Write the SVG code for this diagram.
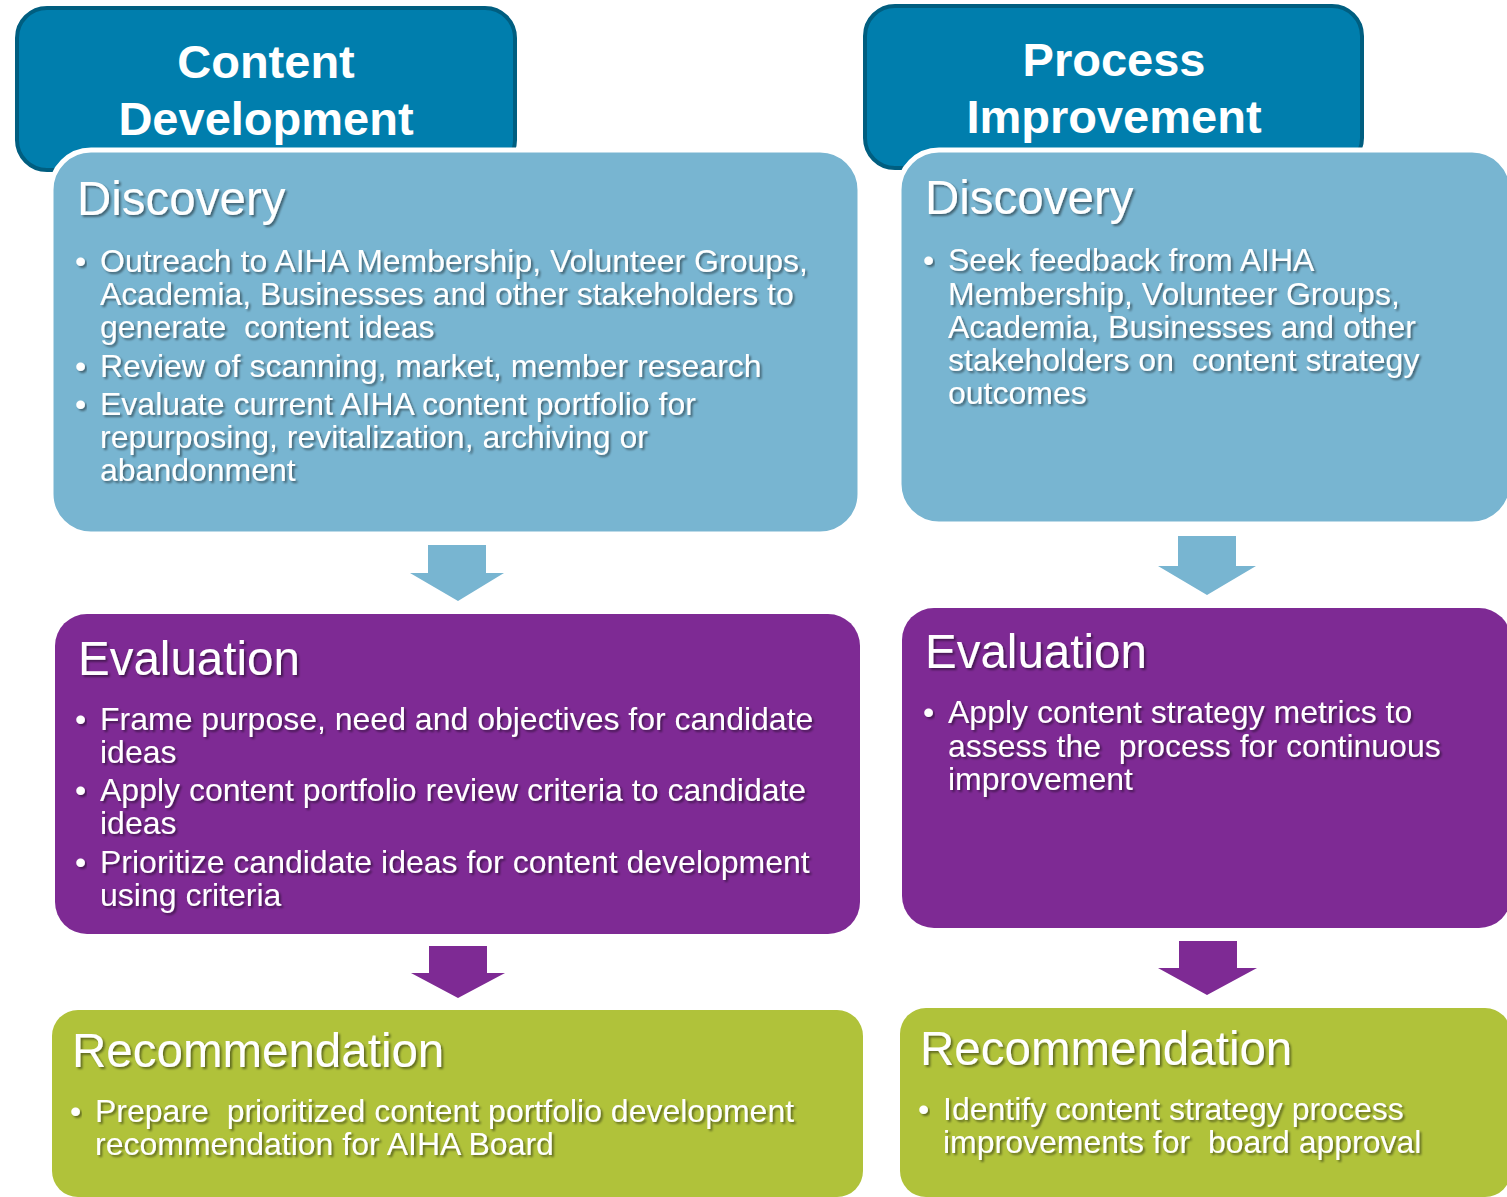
<svg xmlns="http://www.w3.org/2000/svg" width="1507" height="1197" viewBox="0 0 1507 1197">
<defs>
<filter id="sh" x="-5%" y="-20%" width="110%" height="150%">
<feDropShadow dx="2" dy="2" stdDeviation="1.2" flood-color="#000" flood-opacity="0.45"/>
</filter>
<style>
.tab{fill:#007EAD;stroke:#005E80;stroke-width:4}
.tabt{font-family:"Liberation Sans",Arial,sans-serif;font-weight:bold;font-size:47px;fill:#fff;text-anchor:middle}
.disc{fill:#78B5D1;stroke:#fff;stroke-width:5}
.eval{fill:#7E2A94}
.rec{fill:#B0C23A}
.ttl{font-family:"Liberation Sans",Arial,sans-serif;font-size:47.5px;fill:#fff;filter:url(#sh)}
.b{font-family:"Liberation Sans",Arial,sans-serif;font-size:32px;fill:#fff;white-space:pre;filter:url(#sh)}
.ablue{fill:#78B5D1}
.apur{fill:#7E2A94}
</style>
</defs>
<rect width="1507" height="1197" fill="#fff"/>

<g id="tab-content">
<rect class="tab" x="17" y="8" width="498" height="162" rx="30"/>
<text class="tabt" x="266" y="78">Content</text>
<text class="tabt" x="266" y="135">Development</text>
</g>
<g id="tab-process">
<rect class="tab" x="865" y="6" width="497" height="162" rx="30"/>
<text class="tabt" x="1114" y="76">Process</text>
<text class="tabt" x="1114" y="133">Improvement</text>
</g>

<g id="cd-discovery">
<rect class="disc" x="51" y="150" width="809" height="384" rx="40"/>
<text class="ttl" x="77" y="215">Discovery</text>
<text class="b" x="75" y="272">•</text>
<text class="b" x="100" y="272">Outreach to AIHA Membership, Volunteer Groups,</text>
<text class="b" x="100" y="305">Academia, Businesses and other stakeholders to</text>
<text class="b" x="100" y="338">generate  content ideas</text>
<text class="b" x="75" y="377">•</text>
<text class="b" x="100" y="377">Review of scanning, market, member research</text>
<text class="b" x="75" y="415">•</text>
<text class="b" x="100" y="415">Evaluate current AIHA content portfolio for</text>
<text class="b" x="100" y="448">repurposing, revitalization, archiving or</text>
<text class="b" x="100" y="481">abandonment</text>
</g>

<g id="cd-evaluation">
<rect class="eval" x="55" y="614" width="805" height="320" rx="32"/>
<text class="ttl" x="78" y="675">Evaluation</text>
<text class="b" x="75" y="730">•</text>
<text class="b" x="100" y="730">Frame purpose, need and objectives for candidate</text>
<text class="b" x="100" y="763">ideas</text>
<text class="b" x="75" y="801">•</text>
<text class="b" x="100" y="801">Apply content portfolio review criteria to candidate</text>
<text class="b" x="100" y="834">ideas</text>
<text class="b" x="75" y="873">•</text>
<text class="b" x="100" y="873">Prioritize candidate ideas for content development</text>
<text class="b" x="100" y="906">using criteria</text>
</g>

<g id="cd-recommendation">
<rect class="rec" x="52" y="1010" width="811" height="187" rx="26"/>
<text class="ttl" x="72" y="1067">Recommendation</text>
<text class="b" x="70" y="1122">•</text>
<text class="b" x="95" y="1122">Prepare  prioritized content portfolio development</text>
<text class="b" x="95" y="1155">recommendation for AIHA Board</text>
</g>

<g id="pi-discovery">
<rect class="disc" x="899" y="150" width="613" height="374" rx="40"/>
<text class="ttl" x="925" y="214">Discovery</text>
<text class="b" x="923" y="271">•</text>
<text class="b" x="948" y="271">Seek feedback from AIHA</text>
<text class="b" x="948" y="305">Membership, Volunteer Groups,</text>
<text class="b" x="948" y="338">Academia, Businesses and other</text>
<text class="b" x="948" y="371">stakeholders on  content strategy</text>
<text class="b" x="948" y="404">outcomes</text>
</g>

<g id="pi-evaluation">
<rect class="eval" x="902" y="608" width="609" height="320" rx="32"/>
<text class="ttl" x="925" y="668">Evaluation</text>
<text class="b" x="923" y="723">•</text>
<text class="b" x="948" y="723">Apply content strategy metrics to</text>
<text class="b" x="948" y="757">assess the  process for continuous</text>
<text class="b" x="948" y="790">improvement</text>
</g>

<g id="pi-recommendation">
<rect class="rec" x="900" y="1008" width="611" height="189" rx="26"/>
<text class="ttl" x="920" y="1065">Recommendation</text>
<text class="b" x="918" y="1120">•</text>
<text class="b" x="943" y="1120">Identify content strategy process</text>
<text class="b" x="943" y="1153">improvements for  board approval</text>
</g>

<g id="connectors">
<polygon class="ablue" points="428,545 486,545 486,573 504,573 458,601 410,573 428,573"/>
<polygon class="apur" points="429,946 487,946 487,973 505,973 458,998 411,973 429,973"/>
<polygon class="ablue" points="1178,536 1236,536 1236,566 1256,566 1207,595 1158,566 1178,566"/>
<polygon class="apur" points="1179,941 1237,941 1237,968 1257,968 1207,995 1158,968 1179,968"/>
</g>
</svg>
